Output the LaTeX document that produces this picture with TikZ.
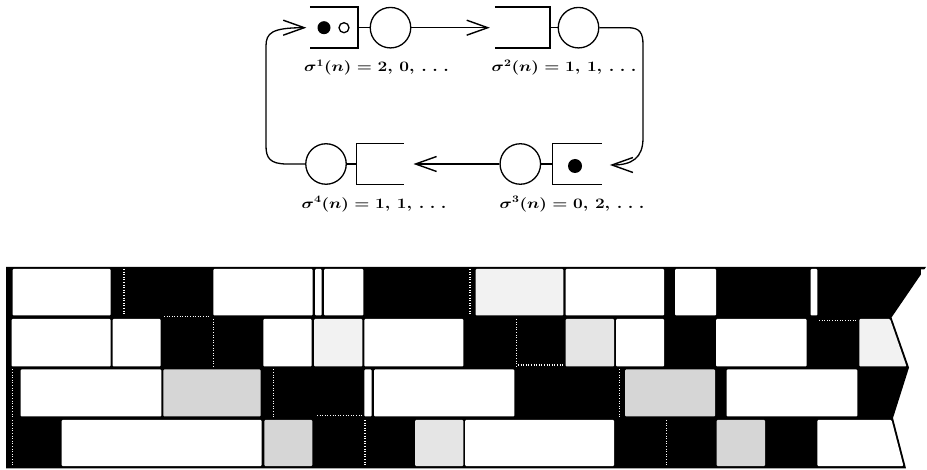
\documentclass[tikz,border=0pt]{standalone}
\usetikzlibrary{arrows.meta}
\colorlet{wt}{white}
\colorlet{lt}{black!5}
\colorlet{md}{black!10}
\colorlet{dn}{black!16}
\newcommand{\wdots}{.\;.\;.}
\begin{document}
\begin{tikzpicture}[x=1pt,y=-1pt,
  lw/.style={line width=1.3pt},
  arr/.style={lw,-{Straight Barb[length=21pt,width=15pt,line width=1.4pt]}},
  srv/.style={circle,draw,line width=1.3pt,minimum size=40.5pt,inner sep=0pt},
  que/.style={rectangle,minimum height=40.5pt,inner sep=0pt},
  qline/.style={line width=1.5pt},
  lbl/.style={font=\fontsize{14}{16}\selectfont\boldmath,inner sep=0pt},
  gdot/.style={white,line width=1.2pt,dash pattern=on 1pt off 1.6pt},
  cell/.style={rounded corners=1pt}]
\useasboundingbox (0,0) rectangle (927,470);

% ---------- top: cyclic queue network ----------
\node[que,minimum width=48pt] (q1) at (334,27.7) {};
\node[srv] (c1) at (390.5,27.7) {};
\node[que,minimum width=55pt] (q2) at (522.5,27.7) {};
\node[srv] (c2) at (578.5,27.7) {};
\node[srv] (c3) at (520.3,164) {};
\node[que,minimum width=49pt] (q3) at (577.2,164) {};
\node[srv] (c4) at (326,164) {};
\node[que,minimum width=46.6pt] (q4) at (380,164) {};

\node[circle,fill,minimum size=13pt,inner sep=0pt] (j1) at (324,27.7) {};
\node[circle,draw,lw,minimum size=10pt,inner sep=0pt] (j2) at (344,27.7) {};
\node[circle,fill,minimum size=14pt,inner sep=0pt] (j3) at (575,166) {};

\draw[qline] (q1.north west) -- (q1.north east) -- (q1.south east) -- (q1.south west);
\draw[qline] (q2.north west) -- (q2.north east) -- (q2.south east) -- (q2.south west);
\draw[qline] (q3.north east) -- (q3.north west) -- (q3.south west) -- (q3.south east);
\draw[qline] (q4.north east) -- (q4.north west) -- (q4.south west) -- (q4.south east);

\draw[lw] (q1.east) -- (c1.west);
\draw[lw] (q2.east) -- (c2.west);
\draw[lw] (c3.east) -- (q3.west);
\draw[lw] (c4.east) -- (q4.west);

\draw[arr] (c1.east) -- ([xshift=-5pt]q2.west);
\draw[arr] (c3.west) -- ([xshift=10pt]q4.east);
\draw[arr] (c2.east) -- (628,27.7) .. controls (640,27.7) and (643,33) .. (643,45)
  -- (643,138) .. controls (643,158) and (632,165) .. ([xshift=8pt,yshift=-1pt]q3.east);
\draw[arr] (c4.west) -- (287,164) .. controls (270,164) and (266,158) .. (266,146)
  -- (266,46) .. controls (266,33) and (272,27.7) .. ([xshift=-3.5pt]q1.west);

\node[lbl] (l1) at (376.5,67.5) {\scalebox{1.2}[1]{$\sigma^1(n) = 2,\,0,\,\wdots$}};
\node[lbl] (l2) at (564,67.5) {\scalebox{1.2}[1]{$\sigma^2(n) = 1,\,1,\,\wdots$}};
\node[lbl] (l4) at (374,204) {\scalebox{1.2}[1]{$\sigma^4(n) = 1,\,1,\,\wdots$}};
\node[lbl] (l3) at (572,204) {\scalebox{1.2}[1]{$\sigma^3(n) = 0,\,2,\,\wdots$}};

% ---------- bottom: schedule chart ----------
\fill[black] (6,267) -- (926,267) -- (891.5,317.5) -- (909,367.5) -- (893,418)
  -- (906,468.3) -- (6,468.3) -- cycle;
\fill[white] (921,269.5) -- (925.5,269.5) -- (921,278) -- cycle;

% row 1
\foreach \a/\b/\c in {12.7/110.7/wt, 213.3/312.7/wt, 315/321.7/wt, 324/363.3/wt,
  475.7/563.3/lt, 565.7/664/wt, 675/716/wt, 810.7/817.3/wt}
  \fill[\c,cell] (\a,269) rectangle (\b,315.5);
% row 2
\foreach \a/\b/\c in {11.7/110.7/wt, 112.7/160.7/wt, 263.3/311.7/wt, 314/362.3/lt,
  364.3/463.3/wt, 565.7/614/md, 616/664/wt, 716/806.7/wt}
  \fill[\c,cell] (\a,319) rectangle (\b,366.5);
\fill[lt,cell] (859.3,319) -- (890,319) -- (906.5,366.5) -- (859.3,366.5) -- cycle;
% row 3
\foreach \a/\b/\c in {20.7/161.3/wt, 163.3/260.7/dn, 364.3/371.7/wt, 374/514.3/wt,
  625/715/dn, 726.7/857.3/wt}
  \fill[\c,cell] (\a,369.5) rectangle (\b,416.5);
% row 4
\foreach \a/\b/\c in {61.7/261.7/wt, 264.3/312.3/dn, 415/463.3/md, 465/614/wt,
  716.7/765/dn}
  \fill[\c,cell] (\a,420) rectangle (\b,466);
\fill[wt,cell] (817.3,420) -- (891.5,420) -- (903.4,466) -- (817.3,466) -- cycle;

% dotted dividers between adjacent dark cells
\foreach \x in {124,470} \draw[gdot] (\x,269) -- (\x,315.5);
\draw[gdot] (164,316.8) -- (210,316.8);
\foreach \x in {213.3,516.7} \draw[gdot] (\x,319) -- (\x,366.5);
\draw[gdot] (518,365) -- (563,365);
\draw[gdot] (819,320.5) -- (857,320.5);
\foreach \x in {12.7,273.3,619.5} \draw[gdot] (\x,369.5) -- (\x,416.5);
\draw[gdot] (317,415.5) -- (362,415.5);
\foreach \x in {12.7,365,666.7} \draw[gdot] (\x,420) -- (\x,466);
\end{tikzpicture}
\end{document}
